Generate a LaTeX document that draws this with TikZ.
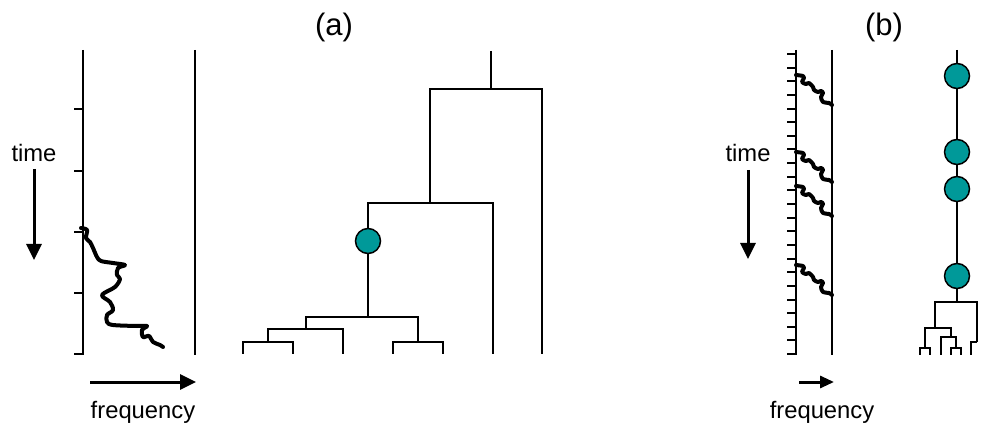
\documentclass[tikz,border=0pt]{standalone}
\usepackage{fontspec}
\setmainfont{Liberation Sans}
\usetikzlibrary{arrows.meta}
\definecolor{tealdot}{RGB}{0,153,153}

\tikzset{
  branch/.style={line width=2pt},
  axisline/.style={line width=2pt},
  wiggle/.style={line width=4pt,line cap=round,line join=round},
  bigarrow/.style={line width=3pt,-{Triangle[length=16pt,width=15pt]}},
  smallarrow/.style={line width=3pt,-{Triangle[length=14pt,width=12pt]}},
  event/.style={circle,draw,line width=1.5pt,fill=tealdot,minimum size=25pt,inner sep=0pt},
  lbl/.style={font=\fontsize{23.8}{28}\selectfont,inner sep=0pt,anchor=base},
  panel/.style={font=\fontsize{31}{36}\selectfont,inner sep=0pt,anchor=base}
}

\begin{document}
\begin{tikzpicture}[x=1pt,y=-1pt]
\useasboundingbox (0,0) rectangle (981,427);

\node [panel] (TitleA) at (334,36) {(a)};
\node [panel] (TitleB) at (884,36) {(b)};

% (a) spectrogram
\draw [axisline] (83,50) -- (83,355);
\draw [axisline] (195,50) -- (195,355);
\foreach \y in {109,171,232,293,354} \draw [axisline] (74,\y) -- (83,\y);
\draw [wiggle] plot [smooth,tension=0.55] coordinates {(81,228) (87,230) (86,238) (90,242) (93,248) (97,257) (101,261) (113,263) (125,265) (118,268) (117,275) (120,279) (115,287) (102,295) (110,302) (113,310) (107,315) (107,322) (113,325) (137,326) (147,326) (142,330) (143,337) (149,336) (153,342) (160,345) (163,347)};
\node [lbl] (TimeA) at (34,162) {time};
\coordinate (TimeAFrom) at (34,169);
\coordinate (TimeATo) at (34,260);
\draw [bigarrow] (TimeAFrom) -- (TimeATo);
\coordinate (FreqAFrom) at (90,382);
\coordinate (FreqATo) at (196,382);
\draw [bigarrow] (FreqAFrom) -- (FreqATo);
\node [lbl] (FreqA) at (143,418) {frequency};

% (a) tree
\coordinate (RootA) at (491,51);
\coordinate (JoinA1) at (491,89);
\coordinate (JoinA2) at (430,203);
\coordinate (JoinA3) at (368,317);
\coordinate (JoinA4) at (306,329);
\coordinate (JoinA5) at (268,342);
\coordinate (JoinA6) at (418,342);
\foreach \x [count=\i] in {243,293,343,393,443,493,542} \coordinate (LeafA\i) at (\x,354);
\node [event] (ShiftA) at (368,241) {};
\draw [branch] (RootA) -- (JoinA1);
\draw [branch] (JoinA1) -| (JoinA2);
\draw [branch] (JoinA1) -| (LeafA7);
\draw [branch] (JoinA2) -| (ShiftA);
\draw [branch] (JoinA2) -| (LeafA6);
\draw [branch] (ShiftA) -- (JoinA3);
\draw [branch] (JoinA3) -| (JoinA4);
\draw [branch] (JoinA3) -| (JoinA6);
\draw [branch] (JoinA4) -| (JoinA5);
\draw [branch] (JoinA4) -| (LeafA3);
\draw [branch] (JoinA5) -| (LeafA1);
\draw [branch] (JoinA5) -| (LeafA2);
\draw [branch] (JoinA6) -| (LeafA4);
\draw [branch] (JoinA6) -| (LeafA5);

% (b) spectrogram
\draw [axisline] (796,50) -- (796,355);
\draw [axisline] (832,50) -- (832,355);
\foreach \i in {0,...,22} \draw [axisline] (787,54+13.64*\i) -- (796,54+13.64*\i);
\foreach \y in {75,152,186,265}
  \draw [wiggle,shift={(796,\y)}] plot [smooth,tension=0.55] coordinates {(0,0) (7,1) (8,3) (6,7) (10,9) (13,8) (17,12) (18,15) (22,17) (25,16) (27,18) (25,22) (27,27) (33,28) (36,30)};
\node [lbl] (TimeB) at (748,162) {time};
\coordinate (TimeBFrom) at (748,170);
\coordinate (TimeBTo) at (748,259);
\draw [bigarrow] (TimeBFrom) -- (TimeBTo);
\coordinate (FreqBFrom) at (799,382);
\coordinate (FreqBTo) at (834,382);
\draw [smallarrow] (FreqBFrom) -- (FreqBTo);
\node [lbl] (FreqB) at (822,418) {frequency};

% (b) tree
\coordinate (RootB) at (957,50);
\node [event] (ShiftB1) at (957,76) {};
\node [event] (ShiftB2) at (957,152) {};
\node [event] (ShiftB3) at (957,189) {};
\node [event] (ShiftB4) at (957,276) {};
\coordinate (JoinB1) at (957,302);
\coordinate (JoinB2) at (935,328);
\coordinate (JoinB3) at (977,342);
\coordinate (JoinB4) at (925,348);
\coordinate (JoinB5) at (951,337);
\coordinate (JoinB6) at (956,348);
\foreach \x [count=\i] in {920,930,941,951,961,971} \coordinate (LeafB\i) at (\x,355);
\draw [branch] (RootB) -- (ShiftB1) -- (ShiftB2) -- (ShiftB3) -- (ShiftB4) -- (JoinB1);
\draw [branch] (JoinB1) -| (JoinB2);
\draw [branch] (JoinB1) -| (JoinB3);
\draw [branch] (JoinB2) -| (JoinB4);
\draw [branch] (JoinB2) -| (JoinB5);
\draw [branch] (JoinB4) -| (LeafB1);
\draw [branch] (JoinB4) -| (LeafB2);
\draw [branch] (JoinB5) -| (LeafB3);
\draw [branch] (JoinB5) -| (JoinB6);
\draw [branch] (JoinB6) -| (LeafB4);
\draw [branch] (JoinB6) -| (LeafB5);
\draw [branch] (JoinB3) -| (LeafB6);
\end{tikzpicture}
\end{document}
